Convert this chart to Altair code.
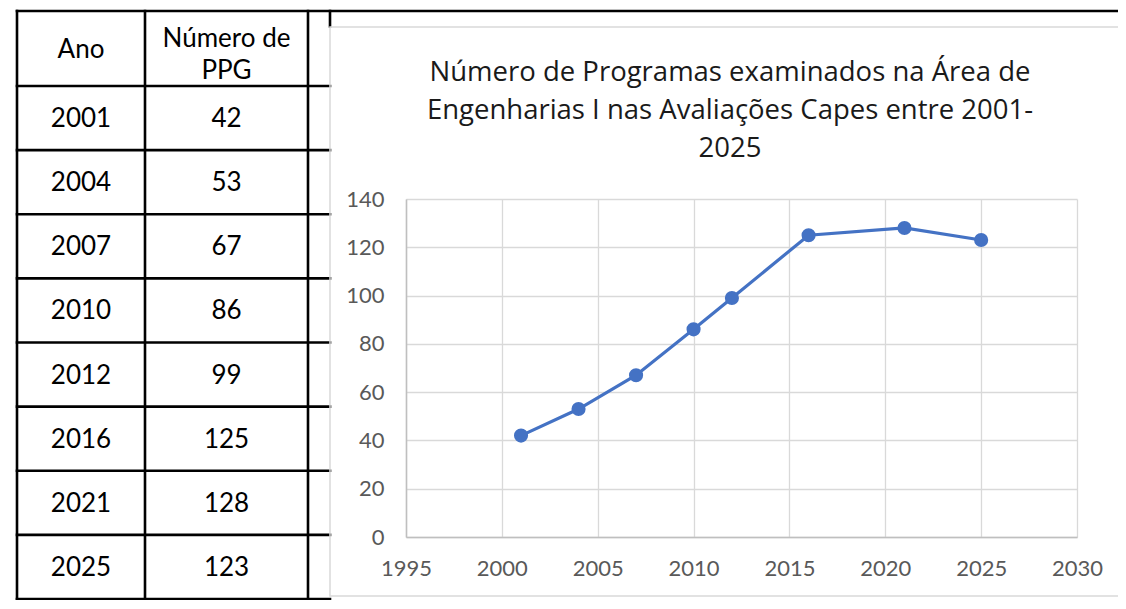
import altair as alt
import pandas as pd

# ---------------- data ----------------
years = [2001, 2004, 2007, 2010, 2012, 2016, 2021, 2025]
counts = [42, 53, 67, 86, 99, 125, 128, 123]
header_labels = ["Ano", "Número de\nPPG"]
title_lines = [
    "Número de Programas examinados na Área de",
    "Engenharias I nas Avaliações Capes entre 2001-",
    "2025",
]
x_ticks = [1995, 2000, 2005, 2010, 2015, 2020, 2025, 2030]
y_ticks = [0, 20, 40, 60, 80, 100, 120, 140]

# ---------------- layout / style ----------------
PLOT_W, PLOT_H = 671, 338
PAD = {"left": 398, "top": 191, "right": 41, "bottom": 63}
FONT = "Lato"
TITLE_FONT = "Open Sans"
BLUE = "#4472C4"
GRID = "#d9d9d9"
AXIS = "#bfbfbf"
LABEL = "#595959"

# table geometry (table units; mapped by the table scales)
COL_EDGES = [0, 128, 291, 313]
HEADER_TOP = -1.17
N_ROWS = len(years)
tx_scale = alt.Scale(domain=[0, 313], range=[-389, -76], zero=False, nice=False)
ty_scale = alt.Scale(domain=[HEADER_TOP, N_ROWS], range=[-188, 400], zero=False, nice=False)

# ---------------- table ----------------
rules = []
row_edges = [HEADER_TOP] + list(range(0, N_ROWS + 1))
for i, ty in enumerate(row_edges):
    rules.append({"x0": 0, "x1": 1109 if i == 0 else 313, "y0": ty, "y1": ty, "w": 2.6})
for tx in COL_EDGES[:3]:
    rules.append({"x0": tx, "x1": tx, "y0": HEADER_TOP, "y1": N_ROWS, "w": 2.6})
rules.append({"x0": 313, "x1": 313, "y0": HEADER_TOP, "y1": -0.93, "w": 2.6})
rules.append({"x0": -10, "x1": -10, "y0": HEADER_TOP, "y1": N_ROWS, "w": 2.0})
rules_df = pd.DataFrame(rules)

col_centers = [(COL_EDGES[0] + COL_EDGES[1]) / 2, (COL_EDGES[1] + COL_EDGES[2]) / 2]
head_df = pd.DataFrame(
    [{"tx": col_centers[c], "ty": HEADER_TOP / 2, "label": lab} for c, lab in enumerate(header_labels)]
)
cells = []
for r, (yr, n) in enumerate(zip(years, counts)):
    cells.append({"tx": col_centers[0], "ty": r + 0.5, "label": str(yr)})
    cells.append({"tx": col_centers[1], "ty": r + 0.5, "label": str(n)})
cells_df = pd.DataFrame(cells)

table_rules = alt.Chart(rules_df).mark_rule(color="black", strokeCap="square").encode(
    x=alt.X("x0:Q", scale=tx_scale, axis=None),
    x2="x1:Q",
    y=alt.Y("y0:Q", scale=ty_scale, axis=None),
    y2="y1:Q",
    strokeWidth=alt.StrokeWidth("w:Q", scale=None, legend=None),
)

text_style = dict(font=FONT, fontSize=26, color="black", baseline="middle", align="center",
                  lineBreak="\n", lineHeight=32)

head_base = alt.Chart(head_df).encode(
    x=alt.X("tx:Q", scale=tx_scale, axis=None),
    y=alt.Y("ty:Q", scale=ty_scale, axis=None),
    text="label:N",
)
head_ano = head_base.transform_filter(alt.datum.label == "Ano").mark_text(dy=1, **text_style)
head_ppg = head_base.transform_filter(alt.datum.label != "Ano").mark_text(dy=-10, **text_style)

table_text = alt.Chart(cells_df).mark_text(dy=1, **text_style).encode(
    x=alt.X("tx:Q", scale=tx_scale, axis=None),
    y=alt.Y("ty:Q", scale=ty_scale, axis=None),
    text="label:N",
)

# ---------------- chart box and title ----------------
box = alt.Chart(pd.DataFrame({"k": [0]})).mark_rect(
    filled=False, stroke=GRID, strokeWidth=1.5
).encode(
    x=alt.value(-76), x2=alt.value(725), y=alt.value(-172), y2=alt.value(397)
)

title = alt.Chart(pd.DataFrame({"t": ["\n".join(title_lines)]})).mark_text(
    font=TITLE_FONT, fontSize=27.5, color="#1a1a1a", align="center", baseline="middle",
    lineBreak="\n", lineHeight=38,
).encode(
    x=alt.value(324), y=alt.value(-126), text="t:N"
)

# ---------------- line chart ----------------
df = pd.DataFrame({"Ano": years, "PPG": counts})
xs = alt.Scale(domain=[1995, 2030], nice=False, zero=False)
ys = alt.Scale(domain=[0, 140], nice=False)

x_axis = alt.Axis(
    values=x_ticks, format="d", title=None, grid=True, gridColor=GRID, gridWidth=1.3,
    ticks=False, domainColor=AXIS, domainWidth=1.5, labelFont=FONT, labelFontSize=22,
    labelColor=LABEL, labelPadding=21, labelFlush=False,
)
y_axis = alt.Axis(
    values=y_ticks, title=None, grid=True, gridColor=GRID, gridWidth=1.3,
    ticks=False, domainColor=AXIS, domainWidth=1.5, labelFont=FONT, labelFontSize=22,
    labelColor=LABEL, labelPadding=22, labelFlush=False,
)

line = alt.Chart(df).mark_line(color=BLUE, strokeWidth=3.2).encode(
    x=alt.X("Ano:Q", scale=xs, axis=x_axis),
    y=alt.Y("PPG:Q", scale=ys, axis=y_axis),
)
points = alt.Chart(df).mark_circle(color=BLUE, opacity=1, size=200).encode(
    x=alt.X("Ano:Q", scale=xs, axis=None),
    y=alt.Y("PPG:Q", scale=ys, axis=None),
)

chart = alt.layer(table_rules, head_ano, head_ppg, table_text, box, title, line, points).resolve_scale(
    x="independent", y="independent"
).properties(
    width=PLOT_W,
    height=PLOT_H,
    autosize=alt.AutoSizeParams(type="none"),
    padding=PAD,
).configure_view(stroke="transparent")

chart.save("out.html", embed_options={"renderer": "svg", "actions": False})
